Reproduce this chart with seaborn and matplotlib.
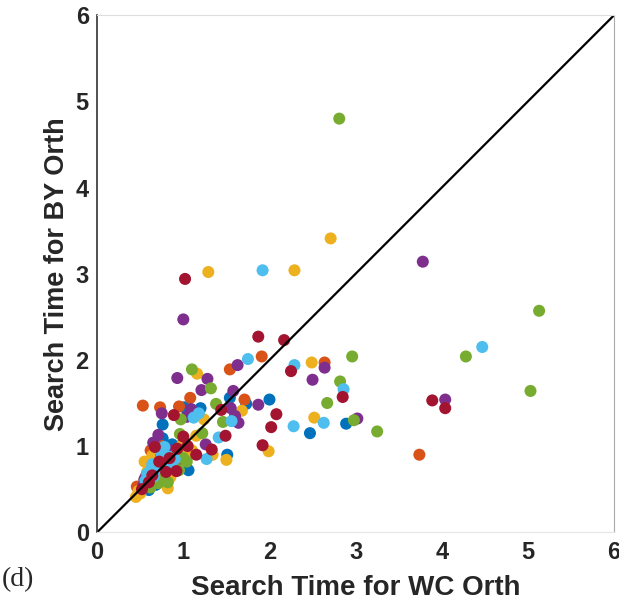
import numpy as np
import pandas as pd
import seaborn as sns
import matplotlib
matplotlib.use("Agg")
import matplotlib.pyplot as plt

# ---- data ----
blue_x = [1.01, 1.20, 1.54, 1.73, 2.00, 2.47, 2.89, 1.51, 0.76, 0.76, 0.87, 1.06, 0.60,
          0.65, 0.80, 0.70, 0.95, 0.58, 0.88, 1.02, 0.62, 0.72,
          0.55, 0.68, 0.84, 0.74, 0.92, 0.50]
blue_y = [1.45, 1.44, 1.56, 1.49, 1.54, 1.15, 1.26, 0.90, 1.25, 1.09, 1.02, 0.72, 0.49,
          0.70, 0.85, 0.62, 0.88, 0.55, 0.75, 0.95, 0.58, 0.80,
          0.60, 0.55, 0.68, 0.90, 0.82, 0.52]

orange_x = [1.91, 1.54, 1.08, 1.71, 2.64, 3.74, 0.53, 0.73, 0.95, 0.46,
            0.75, 0.62, 0.90, 0.55, 1.00, 0.66]
orange_y = [2.04, 1.89, 1.56, 1.54, 1.97, 0.90, 1.47, 1.45, 1.46, 0.53,
            1.00, 0.95, 0.80, 0.62, 1.05, 0.78]

yellow_x = [2.71, 1.29, 2.29, 1.16, 2.49, 1.68, 2.52, 1.99, 1.33, 1.24, 1.15, 1.34, 1.50,
            0.64, 0.55, 1.04, 0.85, 0.82, 0.45, 0.60, 0.92, 1.10, 0.50, 0.70,
            0.48, 0.78, 0.98, 0.58]
yellow_y = [3.41, 3.02, 3.04, 1.84, 1.97, 1.41, 1.33, 0.94, 0.90, 1.31, 1.12, 0.90, 0.84,
            0.89, 0.82, 0.91, 0.64, 0.51, 0.41, 0.75, 0.92, 0.95, 0.45, 0.85,
            0.48, 0.72, 1.00, 0.70]

purple_x = [1.00, 3.78, 1.63, 1.28, 0.93, 1.21, 1.58, 1.55, 1.87, 1.60, 1.64, 2.64, 2.50,
            3.02, 4.04, 1.09, 0.75, 1.04, 1.26, 0.71, 0.65, 0.74, 0.77, 0.55, 0.54,
            0.68, 0.85, 0.60, 0.57, 0.80, 0.63]
purple_y = [2.47, 3.14, 1.94, 1.78, 1.79, 1.65, 1.64, 1.44, 1.48, 1.35, 1.27, 1.91, 1.77,
            1.32, 1.54, 1.43, 1.38, 1.34, 1.02, 1.13, 1.04, 0.91, 0.76, 0.61, 0.55,
            0.72, 0.95, 0.62, 0.66, 0.82, 0.58]

green_x = [2.81, 5.13, 4.28, 5.03, 2.96, 2.82, 2.67, 1.38, 1.46, 2.98, 3.25, 1.10, 1.32,
           0.97, 0.96, 1.22, 1.04, 0.73, 0.71, 0.85, 0.95, 0.62, 0.78,
           0.88, 0.68, 1.00, 0.82]
green_y = [4.80, 2.57, 2.04, 1.64, 2.04, 1.75, 1.50, 1.49, 1.28, 1.30, 1.17, 1.89, 1.67,
           1.31, 1.14, 1.15, 0.82, 0.68, 0.57, 0.78, 0.72, 0.52, 0.62,
           0.88, 0.60, 0.86, 0.58]

lightblue_x = [1.92, 4.47, 1.75, 2.29, 2.86, 1.56, 2.63, 2.28, 1.41, 1.12, 1.18, 1.27,
               0.78, 0.64, 0.58, 0.70, 0.82, 0.66, 0.90,
               0.62, 0.74, 0.86, 0.56]
lightblue_y = [3.04, 2.15, 2.01, 1.94, 1.66, 1.29, 1.27, 1.23, 1.10, 1.33, 1.38, 0.85,
               0.99, 0.79, 0.68, 0.75, 0.88, 0.65, 0.85,
               0.72, 0.92, 0.80, 0.60]

red_x = [1.02, 1.87, 2.17, 2.25, 2.85, 1.44, 2.08, 2.02, 1.49, 1.92, 3.89, 4.04, 0.89,
         1.00, 0.67, 0.93, 1.33, 1.15, 0.92, 0.60, 0.80, 1.05, 0.72,
         0.52, 0.84, 0.64]
red_y = [2.94, 2.27, 2.23, 1.87, 1.57, 1.42, 1.37, 1.22, 1.12, 1.01, 1.53, 1.44, 1.36,
         1.11, 0.99, 0.97, 0.96, 0.90, 0.71, 0.58, 0.70, 1.00, 0.82,
         0.50, 0.86, 0.66]

series = {
    "blue": (blue_x, blue_y, "#0072BD"),
    "orange": (orange_x, orange_y, "#D95319"),
    "yellow": (yellow_x, yellow_y, "#EDB120"),
    "purple": (purple_x, purple_y, "#7E2F8E"),
    "green": (green_x, green_y, "#77AC30"),
    "lightblue": (lightblue_x, lightblue_y, "#4DBEEE"),
    "red": (red_x, red_y, "#A2142F"),
}

frames = []
for name, (xs, ys, _) in series.items():
    frames.append(pd.DataFrame({"wc": xs, "by": ys, "group": name}))
df = pd.concat(frames, ignore_index=True)
palette = {name: c for name, (_, _, c) in series.items()}

diag = [0, 6]
ticks = [0, 1, 2, 3, 4, 5, 6]

# ---- plot ----
sns.set_style("white")
plt.rcParams["font.family"] = ["Liberation Sans", "DejaVu Sans"]

fig = plt.figure(figsize=(6.19, 6.09), dpi=100)
ax = fig.add_axes([0.157, 0.126, 0.835, 0.849])

sns.scatterplot(data=df, x="wc", y="by", hue="group", palette=palette,
                s=75, linewidth=0, alpha=1.0, legend=False, ax=ax, zorder=2)
sns.lineplot(x=diag, y=diag, color="black", linewidth=1.6, ax=ax, zorder=3)

ax.set_xlim(0, 6)
ax.set_ylim(0, 6)
ax.set_xticks(ticks)
ax.set_yticks(ticks)
ax.set_xticklabels([str(t) for t in ticks], fontsize=17, fontweight="bold", color="#262626")
ax.set_yticklabels([str(t) for t in ticks], fontsize=17, fontweight="bold", color="#262626")
ax.tick_params(direction="in", length=5, width=1, color="#c8c8c8", pad=6)
ax.set_xlabel("Search Time for WC Orth", fontsize=20, fontweight="bold", color="#262626", labelpad=8)
ax.set_ylabel("Search Time for BY Orth", fontsize=19.5, fontweight="bold", color="#262626", labelpad=4)

ax.spines["left"].set_color("#333333")
ax.spines["left"].set_linewidth(1.2)
ax.spines["bottom"].set_color("#e6e6e6")
ax.spines["top"].set_color("#dddddd")
ax.spines["right"].set_color("#aaaaaa")
for sp in ax.spines.values():
    sp.set_zorder(4)

fig.text(0.003, 0.048, "(d)", fontsize=20, family=["Liberation Serif", "DejaVu Serif"],
         ha="left", va="center")

fig.savefig("out.png", dpi=100)
